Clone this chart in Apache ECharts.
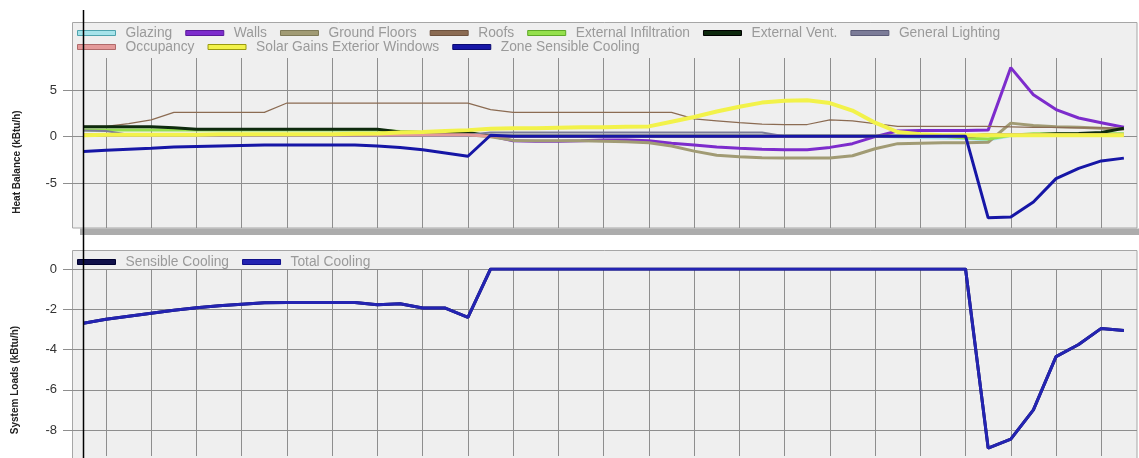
<!DOCTYPE html>
<html>
<head>
<meta charset="utf-8">
<script src="https://cdn.jsdelivr.net/npm/echarts@6/dist/echarts.min.js"></script>
<style>
  html, body { margin: 0; padding: 0; background: #fff; }
  #chart { width: 1139px; height: 458px; }
</style>
</head>
<body>
<div id="chart"></div>
<script>
// time of day (h), half hour steps
const hours = [0.5, 1, 1.5, 2, 2.5, 3, 3.5, 4, 4.5, 5, 5.5, 6, 6.5, 7, 7.5, 8, 8.5, 9, 9.5, 10,
  10.5, 11, 11.5, 12, 12.5, 13, 13.5, 14, 14.5, 15, 15.5, 16, 16.5, 17, 17.5, 18, 18.5, 19, 19.5, 20,
  20.5, 21, 21.5, 22, 22.5, 23, 23.5];
const hourLines = [1, 2, 3, 4, 5, 6, 7, 8, 9, 10, 11, 12, 13, 14, 15, 16, 17, 18, 19, 20, 21, 22, 23];
const heatTicks = [-5, 0, 5];
const loadTicks = [0, -2, -4, -6, -8];

// Heat balance (kBtu/h)
const glazing = [0.2, 0.2, 0.2, 0.2, 0.2, 0.2, 0.2, 0.2, 0.2, 0.2, 0.2, 0.2, 0.2, 0.2, 0.2, 0.2, 0.2, 0.2,
  0.05, 0.05, 0.05, 0.05, 0.05, 0.05, 0.05, 0.05, 0.05, 0.05, 0.05, 0.05, 0.05, 0.05, 0.05, 0.05, 0.05, 0.05,
  -0.05, -0.1, -0.15, -0.2, -0.35, 0.1, 0.2, 0.2, 0.2, 0.2, 0.2];
const walls = [0.2, 0.2, 0.2, 0.2, 0.2, 0.2, 0.2, 0.2, 0.2, 0.2, 0.2, 0.2, 0.2, 0.2, 0.2, 0.2, 0.2, 0.2,
  0.1, -0.45, -0.5, -0.5, -0.45, -0.35, -0.35, -0.45, -0.7, -0.9, -1.1, -1.25, -1.35, -1.4, -1.4, -1.15,
  -0.75, 0.0, 0.6, 0.65, 0.65, 0.65, 0.7, 7.4, 4.5, 2.9, 2.0, 1.5, 1.0];
const groundFloors = [0.2, 0.2, 0.2, 0.2, 0.2, 0.2, 0.2, 0.2, 0.2, 0.2, 0.2, 0.2, 0.2, 0.2, 0.2, 0.2, 0.2, 0.2,
  0.0, -0.4, -0.45, -0.45, -0.45, -0.5, -0.55, -0.65, -1.0, -1.55, -2.0, -2.15, -2.25, -2.3, -2.3, -2.3,
  -2.05, -1.3, -0.75, -0.7, -0.65, -0.65, -0.6, 1.45, 1.2, 1.05, 1.0, 0.9, 0.8];
const roofs = [1.1, 1.1, 1.4, 1.8, 2.6, 2.6, 2.6, 2.6, 2.6, 3.6, 3.6, 3.6, 3.6, 3.6, 3.6, 3.6, 3.6, 3.6,
  2.9, 2.6, 2.6, 2.6, 2.6, 2.6, 2.6, 2.6, 2.6, 1.9, 1.7, 1.5, 1.35, 1.3, 1.3, 1.8, 1.7, 1.4,
  1.1, 1.1, 1.1, 1.1, 1.1, 1.05, 1.0, 1.0, 0.95, 0.95, 0.9];
const extInfiltration = [0.7, 0.7, 0.7, 0.7, 0.7, 0.7, 0.7, 0.7, 0.7, 0.7, 0.7, 0.7, 0.7, 0.7, 0.55, 0.45, 0.45, 0.45,
  0.05, 0.05, 0.05, 0.05, 0.05, 0.05, 0.05, 0.05, 0.05, 0.05, 0.05, 0.05, 0.05, 0.05, 0.05, 0.05, 0.05, 0.05,
  0.05, 0.05, 0.05, -0.15, -0.25, 0.15, 0.3, 0.3, 0.3, 0.3, 0.3];
const extVent = [1.07, 1.07, 1.07, 1.07, 0.95, 0.8, 0.8, 0.8, 0.8, 0.8, 0.8, 0.8, 0.8, 0.8, 0.5, 0.45, 0.45, 0.45,
  0.05, 0.05, 0.05, 0.05, 0.05, 0.05, 0.05, 0.05, 0.05, 0.05, 0.05, 0.05, 0.05, 0.05, 0.05, 0.05, 0.05, 0.05,
  0.05, 0.05, 0.05, 0.05, 0.2, 0.2, 0.2, 0.3, 0.35, 0.45, 0.9];
const genLighting = [0.65, 0.6, 0.2, 0.2, 0.2, 0.2, 0.2, 0.2, 0.2, 0.2, 0.2, 0.2, 0.2, 0.2, 0.2, 0.2, 0.2, 0.2,
  0.45, 0.45, 0.45, 0.45, 0.45, 0.45, 0.45, 0.45, 0.45, 0.45, 0.45, 0.45, 0.45, 0.05, 0.05, 0.05, 0.05, 0.05,
  0.05, 0.05, 0.05, 0.05, 0.2, 0.2, 0.2, 0.2, 0.2, 0.2, 0.2];
const occupancy = [0.2, 0.2, 0.2, 0.2, 0.2, 0.2, 0.2, 0.2, 0.2, 0.2, 0.2, 0.2, 0.2, 0.2, 0.2, 0.2, 0.2, 0.2,
  0.05, 0.05, 0.05, 0.05, 0.05, 0.05, 0.05, 0.05, 0.05, 0.05, 0.05, 0.05, 0.05, 0.05, 0.05, 0.05, 0.05, 0.05,
  0.05, 0.05, 0.05, 0.05, 0.2, 0.2, 0.2, 0.2, 0.2, 0.2, 0.2];
const solarGains = [0.15, 0.2, 0.2, 0.2, 0.2, 0.2, 0.25, 0.25, 0.25, 0.25, 0.25, 0.25, 0.3, 0.35, 0.45, 0.5, 0.6, 0.7,
  0.85, 0.9, 0.9, 0.95, 1.0, 1.0, 1.05, 1.1, 1.6, 2.1, 2.7, 3.2, 3.65, 3.85, 3.9, 3.6, 2.8, 1.5,
  0.5, 0.25, 0.15, 0.15, 0.15, 0.15, 0.15, 0.15, 0.15, 0.15, 0.15];
const zoneCooling = [-1.6, -1.45, -1.35, -1.25, -1.1, -1.05, -1.0, -0.95, -0.9, -0.9, -0.9, -0.9, -0.9, -1.0, -1.15, -1.4, -1.75, -2.1,
  0.15, 0.05, 0.05, 0.05, 0.05, 0.05, 0.05, 0.05, 0.05, 0.05, 0.05, 0.05, 0.05, 0.05, 0.05, 0.05, 0.05, 0.05,
  0.05, 0.05, 0.05, 0.05, -8.7, -8.6, -7.0, -4.5, -3.4, -2.6, -2.3];

// System loads (kBtu/h)
const sensibleCooling = [-2.7, -2.5, -2.35, -2.2, -2.05, -1.92, -1.83, -1.75, -1.68, -1.66, -1.66, -1.66, -1.66, -1.78, -1.73, -1.94, -1.94, -2.4,
  0, 0, 0, 0, 0, 0, 0, 0, 0, 0, 0, 0, 0, 0, 0, 0, 0, 0, 0, 0, 0, 0,
  -8.9, -8.45, -7.0, -4.35, -3.75, -2.95, -3.05];
const totalCooling = [-2.7, -2.5, -2.35, -2.2, -2.05, -1.92, -1.83, -1.75, -1.68, -1.66, -1.66, -1.66, -1.66, -1.78, -1.73, -1.94, -1.94, -2.4,
  0, 0, 0, 0, 0, 0, 0, 0, 0, 0, 0, 0, 0, 0, 0, 0, 0, 0, 0, 0, 0, 0,
  -8.9, -8.45, -7.0, -4.35, -3.75, -2.95, -3.05];

const FONT = 'Liberation Sans, Arial, sans-serif';
const GRID_COLOR = '#8e8e8e';
const PANEL_BG = '#efefef';
const PANEL_BORDER = '#a6a6a6';

function line(name, values, color, width, idx) {
  return {
    name: name,
    type: 'line',
    xAxisIndex: idx,
    yAxisIndex: idx,
    data: values.map((v, i) => [hours[i], v]),
    showSymbol: false,
    symbol: 'none',
    silent: true,
    lineStyle: { color: color, width: width },
    itemStyle: { color: color }
  };
}

function xAx(idx) {
  return {
    type: 'value', gridIndex: idx, min: 0.27, max: 23.79,
    axisLine: { show: false },
    axisLabel: { show: false },
    axisTick: { show: false, customValues: hourLines },
    splitLine: { show: true, lineStyle: { color: GRID_COLOR, width: 1 } }
  };
}

function yAx(idx, min, max, ticks) {
  return {
    type: 'value', gridIndex: idx, min: min, max: max,
    axisLine: { show: false },
    axisTick: { show: true, length: 10, customValues: ticks, lineStyle: { color: GRID_COLOR } },
    axisLabel: { customValues: ticks, margin: 16, fontSize: 13, color: '#333', fontFamily: FONT },
    splitLine: { show: true, lineStyle: { color: GRID_COLOR, width: 1 } }
  };
}

function legend(names, borders, top) {
  return {
    data: names.map((n, i) => ({ name: n, itemStyle: { borderColor: borders[i], borderWidth: 1 } })),
    left: 77, top: top, padding: 0,
    icon: 'rect', itemWidth: 38, itemHeight: 5, itemGap: 13,
    selectedMode: false,
    textStyle: { fontSize: 13.8, color: '#9a9a9a', fontFamily: FONT, padding: [0, 0, 0, 5] }
  };
}

const chart = echarts.init(document.getElementById('chart'), null, { renderer: 'canvas' });

chart.setOption({
  animation: false,
  backgroundColor: '#ffffff',
  grid: [
    { left: 73, right: 2, top: 58, height: 170 },
    { left: 73, right: 2, top: 269, height: 187 }
  ],
  xAxis: [xAx(0), xAx(1)],
  yAxis: [yAx(0, -9.79, 8.43, heatTicks), yAx(1, -9.29, 0, loadTicks)],
  legend: [
    legend(['Glazing', 'Walls', 'Ground Floors', 'Roofs', 'External Infiltration', 'External Vent.', 'General Lighting'],
      ['#4fa3ad', '#5a1a9a', '#7f7a58', '#6e523e', '#5ea828', '#000000', '#5c5c78'], 26),
    legend(['Occupancy', 'Solar Gains Exterior Windows', 'Zone Sensible Cooling'],
      ['#b06a6a', '#9a9a10', '#0a0a70'], 40),
    legend(['Sensible Cooling', 'Total Cooling'], ['#000030', '#10108a'], 255)
  ],
  series: [
    line('Glazing', glazing, '#a6e3ea', 3, 0),
    line('Walls', walls, '#7d2ccc', 3, 0),
    line('Ground Floors', groundFloors, '#a19b74', 3, 0),
    line('Roofs', roofs, '#8b6b52', 1.2, 0),
    line('External Infiltration', extInfiltration, '#94e04c', 3, 0),
    line('External Vent.', extVent, '#0e2a0e', 3, 0),
    line('General Lighting', genLighting, '#7c7c98', 2, 0),
    line('Occupancy', occupancy, '#e49a9a', 3, 0),
    line('Solar Gains Exterior Windows', solarGains, '#f2f24a', 4, 0),
    line('Zone Sensible Cooling', zoneCooling, '#1616a6', 3, 0),
    line('Sensible Cooling', sensibleCooling, '#10104a', 3, 1),
    line('Total Cooling', totalCooling, '#2424b2', 3, 1)
  ]
});

// panel frames, axis titles and the time cursor
const cursorX = chart.convertToPixel({ xAxisIndex: 0 }, hours[0]);
chart.setOption({
  graphic: [
    { type: 'rect', z: -10, shape: { x: 80, y: 228.5, width: 1064, height: 6.5 }, style: { fill: '#acacac' } },
    { type: 'rect', z: -9, shape: { x: 72.5, y: 22.5, width: 1064.5, height: 205.5 },
      style: { fill: PANEL_BG, stroke: PANEL_BORDER, lineWidth: 1 } },
    { type: 'rect', z: -9, shape: { x: 72.5, y: 250.5, width: 1064.5, height: 230 },
      style: { fill: PANEL_BG, stroke: PANEL_BORDER, lineWidth: 1 } },
    { type: 'text', x: 17, y: 162, rotation: Math.PI / 2,
      style: { text: 'Heat Balance (kBtu/h)', font: 'bold 10px ' + FONT, fill: '#222',
        align: 'center', verticalAlign: 'middle', textAlign: 'center', textVerticalAlign: 'middle' } },
    { type: 'text', x: 15, y: 380, rotation: Math.PI / 2,
      style: { text: 'System Loads (kBtu/h)', font: 'bold 10px ' + FONT, fill: '#222',
        align: 'center', verticalAlign: 'middle', textAlign: 'center', textVerticalAlign: 'middle' } },
    { type: 'line', z: 100, shape: { x1: Math.round(cursorX) + 0.5, y1: 10, x2: Math.round(cursorX) + 0.5, y2: 458 },
      style: { stroke: '#000', lineWidth: 1.5 } }
  ]
});
</script>
</body>
</html>
